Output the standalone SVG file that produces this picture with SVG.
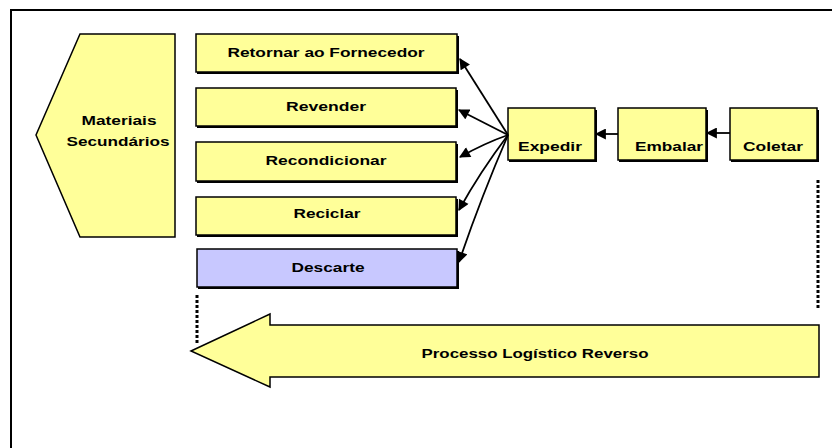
<svg xmlns="http://www.w3.org/2000/svg" width="832" height="448" viewBox="0 0 832 448">
  <style>
    .box { fill: #FFFF99; stroke: #000; stroke-width: 1.5; }
    .blue { fill: #C8C8FF; }
    .shadow { fill: #000; }
    .lbl { font-family: "Liberation Sans", Arial, sans-serif; font-weight: bold; font-size: 13.5px; fill: #000; text-anchor: middle; }
    .conn { fill: none; stroke: #000; stroke-width: 1.8; }
    .dots { fill: none; stroke: #000; stroke-width: 3; stroke-dasharray: 3 2; }
  </style>
  <defs>
    <marker id="head" viewBox="0 0 10 10" refX="9" refY="5" markerWidth="12" markerHeight="11" markerUnits="userSpaceOnUse" orient="auto">
      <path d="M0,0 L10,5 L0,10 Z" fill="#000"/>
    </marker>
  </defs>

  <!-- outer frame -->
  <rect x="11" y="10" width="900" height="500" fill="#fff" stroke="#000" stroke-width="2"/>

  <!-- secondary materials block -->
  <g id="materiais">
    <polygon points="80,34 175,34 175,237 80,237 36,135" class="box"/>
    <text class="lbl" x="119" y="125" textLength="75" lengthAdjust="spacingAndGlyphs">Materiais</text>
    <text class="lbl" x="118" y="146" textLength="103" lengthAdjust="spacingAndGlyphs">Secundários</text>
  </g>

  <!-- destination boxes -->
  <g id="retornar">
    <rect class="shadow" x="197" y="36" width="262" height="38"/>
    <rect class="box" x="196" y="34" width="261" height="38"/>
    <text class="lbl" x="326" y="57" textLength="197" lengthAdjust="spacingAndGlyphs">Retornar ao Fornecedor</text>
  </g>
  <g id="revender">
    <rect class="shadow" x="197" y="90" width="261" height="38"/>
    <rect class="box" x="196" y="88" width="260" height="38"/>
    <text class="lbl" x="326" y="111" textLength="80" lengthAdjust="spacingAndGlyphs">Revender</text>
  </g>
  <g id="recondicionar">
    <rect class="shadow" x="197" y="144" width="261" height="39"/>
    <rect class="box" x="196" y="142" width="260" height="39"/>
    <text class="lbl" x="326" y="165" textLength="121" lengthAdjust="spacingAndGlyphs">Recondicionar</text>
  </g>
  <g id="reciclar">
    <rect class="shadow" x="197" y="199" width="261" height="38"/>
    <rect class="box" x="196" y="197" width="260" height="38"/>
    <text class="lbl" x="327" y="218" textLength="67" lengthAdjust="spacingAndGlyphs">Reciclar</text>
  </g>
  <g id="descarte">
    <rect class="shadow" x="198" y="251" width="261" height="38"/>
    <rect class="box blue" x="197" y="249" width="260" height="38"/>
    <text class="lbl" x="328" y="272" textLength="73" lengthAdjust="spacingAndGlyphs">Descarte</text>
  </g>

  <!-- process steps -->
  <g id="expedir">
    <rect class="shadow" x="509" y="110" width="88" height="52"/>
    <rect class="box" x="508" y="108" width="87" height="52"/>
    <text class="lbl" x="550" y="151" textLength="64" lengthAdjust="spacingAndGlyphs">Expedir</text>
  </g>
  <g id="embalar">
    <rect class="shadow" x="619" y="110" width="89" height="52"/>
    <rect class="box" x="618" y="108" width="88" height="52"/>
    <text class="lbl" x="669" y="151" textLength="68" lengthAdjust="spacingAndGlyphs">Embalar</text>
  </g>
  <g id="coletar">
    <rect class="shadow" x="731" y="110" width="88" height="52"/>
    <rect class="box" x="730" y="108" width="87" height="52"/>
    <text class="lbl" x="773" y="151" textLength="60" lengthAdjust="spacingAndGlyphs">Coletar</text>
  </g>

  <!-- reverse logistics arrow -->
  <g id="processo">
    <polygon class="box" points="191,351 270,314 270,325 819,325 819,377 270,377 270,387"/>
    <text class="lbl" x="535" y="358" textLength="227" lengthAdjust="spacingAndGlyphs">Processo Logístico Reverso</text>
  </g>

  <!-- connectors -->
  <g id="connectors">
    <path class="conn" d="M730,133 L707,133" marker-end="url(#head)"/>
    <path class="conn" d="M618,134 L596,134" marker-end="url(#head)"/>
    <path class="conn" d="M508,135 L460,59" marker-end="url(#head)"/>
    <path class="conn" d="M508,135 L459,110" marker-end="url(#head)"/>
    <path class="conn" d="M508,135 Q485,143 460,157" marker-end="url(#head)"/>
    <path class="conn" d="M508,135 Q480,172 459,210" marker-end="url(#head)"/>
    <path class="conn" d="M508,135 Q480,200 459,262" marker-end="url(#head)"/>
    <path class="dots" d="M197,295 L197,343"/>
    <path class="dots" d="M818,180 L818,308"/>
  </g>
</svg>
